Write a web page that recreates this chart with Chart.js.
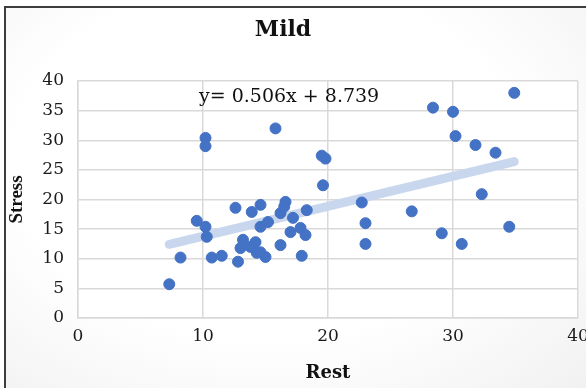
<!DOCTYPE html>
<html>
<head>
<meta charset="utf-8">
<script src="https://cdn.jsdelivr.net/npm/chart.js@4.4.1/dist/chart.umd.min.js"></script>
<style>
  html, body { margin: 0; padding: 0; width: 586px; height: 388px; overflow: hidden; background: #ffffff; }
  #frame { position: absolute; left: 4px; top: 6px; width: 582px; height: 382px;
           border-left: 2px solid #3d3d3d; border-top: 2px solid #3d3d3d; box-sizing: border-box;
           background: radial-gradient(ellipse at 45% 40%, #ffffff 55%, #f1f1f1 100%); }
  #wrap { position: absolute; left: 0; top: 0; width: 586px; height: 388px; }
  canvas { display: block; }
</style>
</head>
<body>
<div id="frame"></div>
<div id="wrap"><canvas id="c" width="586" height="388"></canvas></div>
<script>
// ---- data ----
const chartTitle = "Mild";
const xTitle = "Rest";
const yTitle = "Stress";
const restValues = [
  7.3, 8.2, 9.5, 10.2, 10.3, 10.2, 10.2, 10.7, 11.5, 12.6,
  12.8, 13.0, 13.2, 13.8, 13.9, 14.6, 14.6, 15.2, 14.3, 15.0,
  15.8, 16.2, 16.6, 16.2, 16.5, 17.2, 17.0, 17.8, 18.2, 18.3,
  17.9, 19.5, 19.8, 19.6, 22.7, 23.0, 23.0, 26.7, 28.4, 30.0,
  30.2, 31.8, 33.4, 32.3, 34.9, 34.5, 29.1, 30.7, 14.2, 14.6
];
const stressValues = [
  5.7, 10.2, 16.4, 15.4, 13.7, 30.4, 29.0, 10.2, 10.5, 18.6,
  9.5, 11.8, 13.2, 12.0, 17.9, 19.1, 15.4, 16.2, 11.0, 10.3,
  32.0, 12.3, 19.6, 17.7, 18.8, 16.9, 14.5, 15.2, 14.0, 18.2,
  10.5, 27.4, 26.9, 22.4, 19.5, 16.0, 12.5, 18.0, 35.5, 34.8,
  30.7, 29.2, 27.9, 20.9, 38.0, 15.4, 14.3, 12.5, 12.8, 11.1
];
const xTicks = [0, 10, 20, 30, 40];
const yTicks = [0, 5, 10, 15, 20, 25, 30, 35, 40];
const trendSlope = 0.506;
const trendIntercept = 8.739;
const equationText = "y= 0.506x + 8.739";

// ---- build datasets ----
const points = restValues.map((x, i) => ({ x: x, y: stressValues[i] }));
const xMin = Math.min(...restValues), xMax = Math.max(...restValues);
const trend = [xMin, xMax].map(x => ({ x: x, y: trendSlope * x + trendIntercept }));

const serif = "'DejaVu Serif', 'Liberation Serif', serif";
const gridColor = '#d9d9d9';

const decor = {
  id: 'decor',
  beforeDraw(chart) {
    const { ctx, chartArea: a } = chart;
    ctx.save();
    ctx.fillStyle = '#ffffff';
    ctx.fillRect(a.left, a.top, a.right - a.left, a.bottom - a.top);
    ctx.restore();
  },
  afterDraw(chart) {
    const { ctx, chartArea: a } = chart;
    ctx.save();
    ctx.fillStyle = '#111111';
    ctx.textAlign = 'center';
    ctx.textBaseline = 'middle';
    ctx.font = "bold 22px " + serif;
    ctx.fillText(chartTitle, 283, 30);
    ctx.font = "19px " + serif;
    ctx.textAlign = 'left';
    ctx.fillText(equationText, a.left + 121, a.top + 16);
    ctx.restore();
  }
};

new Chart(document.getElementById('c'), {
  type: 'scatter',
  data: {
    datasets: [
      { label: 'Stress', data: points, backgroundColor: '#4472C4', borderColor: '#4472C4',
        pointRadius: 5.5, pointHoverRadius: 5.5, order: 1 },
      { label: 'Trend', type: 'line', data: trend, borderColor: '#c9d7ee', borderWidth: 9,
        borderCapStyle: 'round', pointRadius: 0, fill: false, order: 2 }
    ]
  },
  options: {
    responsive: false,
    animation: false,
    events: [],
    layout: { padding: { left: 0, right: 0, top: 81, bottom: 0 } },
    plugins: { legend: { display: false }, title: { display: false }, tooltip: { enabled: false } },
    scales: {
      x: {
        type: 'linear', min: 0, max: 40,
        afterBuildTicks(s) { s.ticks = xTicks.map(v => ({ value: v })); },
        afterFit(s) { s.height = 70; s.paddingLeft = 0; s.paddingRight = 8; },
        grid: { color: gridColor, lineWidth: 1.5, drawTicks: false },
        border: { display: true, color: gridColor, width: 1.5 },
        ticks: { color: '#1a1a1a', font: { family: serif, size: 17 }, padding: 8 },
        title: { display: true, text: xTitle, color: '#111111',
                 font: { family: serif, size: 18, weight: 'bold' }, padding: { top: 0, bottom: 4 } }
      },
      y: {
        type: 'linear', min: 0, max: 40,
        afterBuildTicks(s) { s.ticks = yTicks.map(v => ({ value: v })); },
        afterFit(s) { s.width = 78; s.paddingTop = 0; s.paddingBottom = 0; },
        grid: { color: gridColor, lineWidth: 1.5, drawTicks: false },
        border: { display: true, color: gridColor, width: 1.5 },
        ticks: { color: '#1a1a1a', font: { family: serif, size: 17 }, padding: 14 },
        title: { display: true, text: yTitle, color: '#111111',
                 font: { family: "'Liberation Serif', serif", size: 19, weight: 'bold' }, padding: { top: 6, bottom: 0 } }
      }
    }
  },
  plugins: [decor]
});
</script>
</body>
</html>
